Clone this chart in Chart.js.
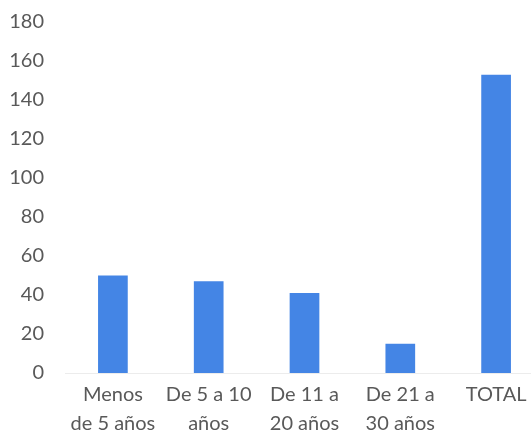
<!DOCTYPE html>
<html>
<head>
<meta charset="utf-8">
<script src="https://cdn.jsdelivr.net/npm/chart.js@4.4.1/dist/chart.umd.min.js"></script>
<style>
  html, body { margin: 0; padding: 0; background: #fff; overflow: hidden; }
  #wrap { width: 544px; height: 442px; position: relative; }
</style>
</head>
<body>
<div id="wrap"><canvas id="chart"></canvas></div>
<script>
const categories = [['Menos', 'de 5 años'], ['De 5 a 10', 'años'], ['De 11 a', '20 años'], ['De 21 a', '30 años'], 'TOTAL'];
const values = [50, 47, 41, 15, 153];
const yTicks = [0, 20, 40, 60, 80, 100, 120, 140, 160, 180];

const ctx = document.getElementById('chart').getContext('2d');
new Chart(ctx, {
    type: 'bar',
    data: {
        labels: categories,
        datasets: [{
            data: values,
            backgroundColor: '#4485E5',
            barPercentage: 0.62,
            categoryPercentage: 0.5
        }]
    },
    options: {
        responsive: true,
        maintainAspectRatio: false,
        animation: false,
        layout: { padding: { top: 22, right: 0, bottom: -3, left: 0 } },
        plugins: {
            legend: { display: false },
            tooltip: { enabled: false }
        },
        scales: {
            x: {
                grid: { display: false, drawTicks: false },
                border: { display: true, color: '#ececec' },
                ticks: {
                    color: '#595959',
                    font: { family: 'Lato', size: 20, lineHeight: 1.45 },
                    maxRotation: 0,
                    autoSkip: false,
                    padding: 7
                }
            },
            y: {
                min: yTicks[0],
                max: yTicks[yTicks.length - 1],
                afterBuildTicks: (scale) => {
                    scale.ticks = yTicks.map(v => ({ value: v }));
                },
                afterFit: (scale) => {
                    scale.width = 65;
                    scale.paddingTop = 0;
                    scale.paddingBottom = 0;
                },
                grid: { display: false, drawTicks: false },
                border: { display: false },
                ticks: {
                    color: '#595959',
                    font: { family: 'Lato', size: 20 },
                    padding: 21
                }
            }
        }
    }
});
</script>
</body>
</html>
